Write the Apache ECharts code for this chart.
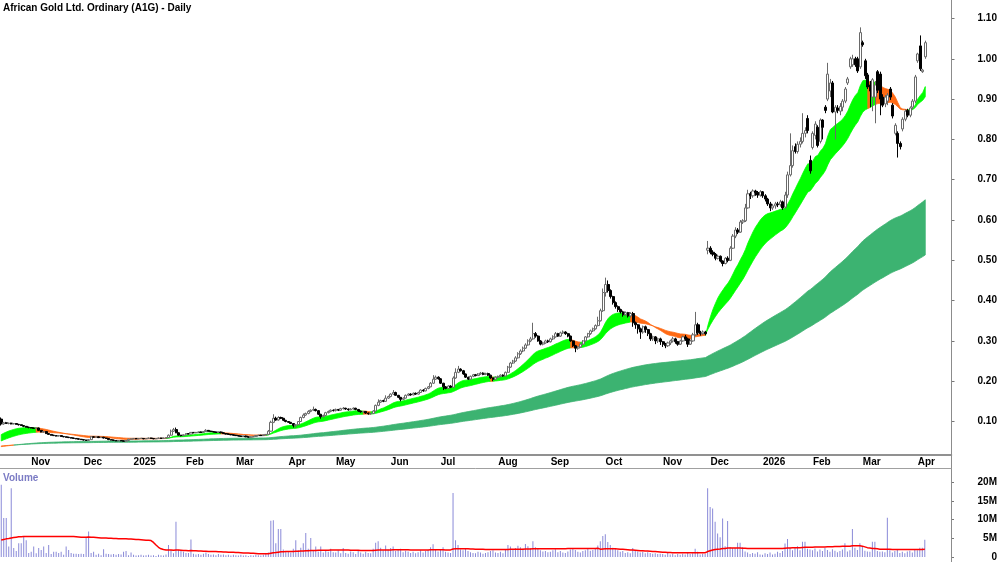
<!DOCTYPE html>
<html>
<head>
<meta charset="utf-8">
<script src="https://cdn.jsdelivr.net/npm/echarts@6/dist/echarts.min.js"></script>
<style>
  html, body { margin: 0; padding: 0; background: #fff; }
  #main { width: 1000px; height: 562px; }
</style>
</head>
<body>
<div id="main"></div>
<script>
// month labels on the date axis and trading days in each month
const monthLabels = ["Oct", "Nov", "Dec", "2025", "Feb", "Mar", "Apr", "May", "Jun", "Jul", "Aug", "Sep", "Oct", "Nov", "Dec", "2026", "Feb", "Mar", "Apr"];
const monthDays = [12, 21, 20, 21, 20, 21, 19, 22, 20, 23, 21, 22, 23, 19, 21, 20, 20, 22, 4];

// daily candles: [open, close, low, high]
const ohlc = [
  // Oct 2024
  [.106,.094,.090,.110],[.094,.097,.092,.099],[.097,.095,.094,.099],[.095,.096,.093,.097],[.096,.094,.093,.097],[.094,.095,.093,.096],
  [.095,.093,.092,.096],[.093,.092,.090,.094],[.092,.090,.089,.093],[.090,.088,.086,.091],[.088,.086,.085,.089],[.086,.085,.083,.087],
  // Nov 2024
  [.085,.084,.083,.086],[.084,.083,.082,.085],[.083,.084,.082,.085],[.084,.078,.077,.085],[.078,.074,.073,.079],[.074,.075,.072,.076],
  [.075,.070,.069,.076],[.070,.068,.067,.071],[.068,.066,.065,.069],[.066,.065,.064,.067],[.065,.064,.063,.066],[.064,.065,.063,.066],
  [.065,.063,.062,.066],[.063,.062,.061,.064],[.062,.061,.060,.063],[.061,.060,.059,.062],[.060,.059,.058,.061],[.059,.058,.057,.060],
  [.058,.057,.056,.059],[.057,.056,.055,.058],[.056,.055,.054,.057],
  // Dec 2024
  [.055,.054,.053,.056],[.054,.053,.052,.055],[.053,.055,.052,.056],[.055,.062,.054,.064],[.062,.061,.060,.063],[.061,.062,.060,.063],
  [.062,.060,.059,.063],[.060,.061,.059,.062],[.061,.059,.058,.062],[.059,.058,.057,.060],[.058,.055,.054,.059],[.055,.054,.053,.056],
  [.054,.053,.052,.055],[.053,.052,.051,.054],[.052,.053,.051,.054],[.053,.052,.051,.054],[.052,.051,.050,.053],[.051,.053,.050,.054],
  [.053,.056,.052,.057],[.056,.057,.055,.058],
  // Jan 2025
  [.057,.058,.056,.059],[.058,.057,.056,.059],[.057,.058,.056,.059],[.058,.0585,.057,.059],[.058,.057,.056,.059],[.057,.058,.056,.059],
  [.058,.059,.057,.060],[.059,.058,.057,.060],[.058,.057,.056,.059],[.057,.058,.056,.059],[.058,.059,.057,.060],[.059,.058,.057,.060],
  [.058,.059,.057,.060],[.059,.060,.058,.061],[.060,.066,.059,.068],[.066,.076,.065,.080],[.076,.080,.074,.084],[.080,.072,.071,.085],
  [.072,.066,.065,.073],[.066,.065,.063,.067],[.065,.067,.064,.068],
  // Feb 2025
  [.067,.070,.066,.071],[.070,.069,.068,.071],[.069,.073,.068,.074],[.073,.072,.071,.074],[.072,.073,.071,.074],[.073,.074,.072,.075],
  [.074,.073,.072,.075],[.073,.075,.072,.076],[.075,.078,.074,.081],[.078,.076,.075,.079],[.076,.075,.074,.077],[.075,.074,.073,.076],
  [.074,.073,.072,.075],[.073,.074,.072,.075],[.074,.072,.071,.075],[.072,.070,.069,.073],[.070,.069,.068,.071],[.069,.068,.067,.070],
  [.068,.067,.066,.069],[.067,.066,.065,.068],
  // Mar 2025
  [.066,.065,.064,.067],[.065,.064,.063,.066],[.064,.063,.062,.065],[.063,.064,.062,.065],[.064,.062,.061,.065],[.062,.061,.060,.063],
  [.061,.062,.060,.063],[.062,.063,.061,.064],[.063,.065,.062,.066],[.065,.066,.064,.067],[.066,.065,.064,.067],[.065,.067,.064,.068],
  [.067,.068,.066,.069],[.068,.076,.067,.079],[.076,.098,.075,.102],[.098,.108,.096,.118],[.108,.104,.102,.112],[.104,.110,.102,.113],
  [.110,.108,.106,.112],[.108,.103,.101,.109],[.103,.100,.098,.104],
  // Apr 2025
  [.100,.098,.097,.101],[.098,.095,.094,.099],[.095,.090,.085,.096],[.090,.092,.085,.093],[.092,.100,.091,.101],[.100,.110,.099,.112],
  [.110,.116,.108,.120],[.116,.120,.114,.122],[.120,.125,.118,.128],[.125,.128,.123,.130],[.128,.130,.126,.137],[.130,.127,.125,.132],
  [.127,.118,.116,.128],[.118,.112,.107,.119],[.112,.115,.110,.117],[.115,.122,.114,.124],[.122,.125,.120,.127],[.125,.128,.123,.130],
  [.128,.127,.125,.130],
  // May 2025
  [.127,.130,.125,.132],[.130,.128,.126,.131],[.128,.132,.127,.134],[.132,.133,.130,.136],[.133,.131,.129,.134],[.131,.129,.127,.132],
  [.129,.131,.128,.133],[.131,.133,.130,.135],[.133,.130,.128,.134],[.130,.126,.124,.131],[.126,.124,.122,.127],[.124,.125,.122,.126],
  [.125,.121,.119,.126],[.121,.119,.117,.122],[.119,.120,.117,.121],[.120,.126,.119,.128],[.126,.140,.125,.142],[.140,.148,.138,.155],
  [.148,.152,.146,.154],[.152,.150,.148,.154],[.150,.158,.149,.165],[.158,.162,.156,.164],
  // Jun 2025
  [.162,.168,.160,.170],[.168,.172,.166,.178],[.172,.165,.164,.174],[.165,.160,.158,.166],[.160,.155,.150,.161],[.155,.158,.153,.160],
  [.158,.165,.157,.167],[.165,.168,.163,.170],[.168,.166,.164,.170],[.166,.170,.165,.172],[.170,.168,.166,.172],[.168,.172,.167,.174],
  [.172,.178,.171,.180],[.178,.176,.174,.180],[.176,.182,.175,.184],[.182,.186,.180,.188],[.186,.195,.185,.198],[.195,.205,.193,.215],
  [.205,.210,.203,.214],[.210,.206,.204,.212],
  // Jul 2025
  [.206,.195,.193,.208],[.195,.186,.178,.196],[.186,.182,.180,.188],[.182,.188,.181,.190],[.188,.185,.183,.190],[.185,.208,.184,.212],
  [.208,.222,.206,.232],[.222,.230,.220,.238],[.230,.226,.224,.232],[.226,.218,.216,.228],[.218,.210,.208,.219],[.210,.205,.203,.211],
  [.205,.212,.204,.214],[.212,.216,.210,.218],[.216,.214,.212,.218],[.214,.218,.213,.220],[.218,.220,.216,.223],[.220,.217,.215,.222],
  [.217,.219,.215,.221],[.219,.215,.213,.221],[.215,.208,.206,.216],[.208,.205,.200,.209],[.205,.210,.204,.212],
  // Aug 2025
  [.210,.212,.208,.214],[.212,.215,.210,.217],[.215,.213,.211,.217],[.213,.222,.212,.224],[.222,.235,.221,.238],[.235,.245,.233,.248],
  [.245,.250,.243,.253],[.250,.258,.248,.262],[.258,.268,.256,.272],[.268,.275,.265,.279],[.275,.282,.272,.286],[.282,.290,.280,.294],
  [.290,.300,.288,.304],[.300,.305,.297,.310],[.305,.318,.303,.345],[.318,.312,.308,.322],[.312,.300,.298,.314],[.300,.292,.289,.302],
  [.292,.295,.289,.298],[.295,.300,.293,.303],[.300,.298,.295,.303],
  // Sep 2025
  [.298,.305,.296,.308],[.305,.310,.302,.314],[.310,.318,.308,.322],[.318,.312,.310,.320],[.312,.320,.310,.323],[.320,.322,.317,.326],
  [.322,.318,.315,.324],[.318,.312,.309,.320],[.312,.300,.298,.313],[.300,.288,.285,.301],[.288,.282,.272,.290],[.282,.285,.278,.287],
  [.285,.292,.283,.294],[.292,.300,.290,.302],[.300,.310,.298,.312],[.310,.318,.308,.320],[.318,.325,.315,.328],[.325,.330,.322,.333],
  [.330,.338,.328,.341],[.338,.350,.336,.360],[.350,.375,.348,.380],[.375,.420,.372,.430],
  // Oct 2025
  [.420,.440,.410,.457],[.440,.425,.420,.450],[.425,.410,.405,.428],[.410,.395,.390,.412],[.395,.385,.380,.398],[.385,.378,.372,.388],
  [.378,.372,.368,.380],[.372,.365,.360,.375],[.365,.370,.362,.373],[.370,.362,.358,.372],[.362,.368,.358,.371],[.368,.345,.335,.372],
  [.345,.340,.330,.348],[.340,.330,.318,.342],[.330,.322,.305,.333],[.322,.335,.318,.338],[.335,.328,.320,.338],[.328,.318,.312,.330],
  [.318,.305,.300,.320],[.305,.310,.300,.313],[.310,.300,.292,.312],[.300,.305,.295,.308],[.305,.298,.290,.308],
  // Nov 2025
  [.298,.292,.285,.300],[.292,.288,.282,.295],[.288,.295,.285,.298],[.295,.300,.290,.303],[.300,.305,.296,.310],[.305,.298,.293,.308],
  [.298,.292,.288,.300],[.292,.300,.290,.303],[.300,.310,.298,.313],[.310,.305,.300,.315],[.305,.292,.285,.308],[.292,.300,.290,.303],
  [.300,.315,.298,.320],[.315,.340,.312,.372],[.340,.320,.315,.345],[.320,.318,.313,.325],[.318,.322,.315,.326],[.322,.318,.314,.325],
  [.525,.530,.515,.548],
  // Dec 2025
  [.530,.520,.515,.535],[.520,.515,.510,.525],[.515,.505,.500,.518],[.505,.510,.502,.514],[.510,.498,.495,.512],[.498,.492,.485,.500],
  [.492,.505,.490,.508],[.505,.500,.495,.510],[.500,.530,.498,.535],[.530,.560,.528,.565],[.560,.575,.555,.582],[.575,.570,.565,.580],
  [.570,.595,.568,.600],[.595,.598,.590,.602],[.598,.630,.595,.640],[.630,.665,.628,.675],[.665,.660,.652,.670],[.660,.672,.655,.676],
  [.672,.668,.660,.675],[.668,.662,.655,.672],[.662,.670,.658,.674],
  // Jan 2026
  [.670,.660,.655,.672],[.660,.652,.646,.664],[.652,.640,.635,.655],[.640,.630,.622,.645],[.630,.635,.625,.640],[.635,.640,.628,.645],
  [.640,.638,.632,.645],[.638,.645,.633,.650],[.645,.630,.625,.648],[.632,.662,.628,.670],[.662,.712,.655,.720],[.712,.735,.708,.815],
  [.735,.772,.730,.785],[.782,.770,.765,.790],[.770,.788,.765,.795],[.788,.795,.780,.805],[.795,.815,.790,.865],[.815,.822,.805,.830],
  [.852,.822,.815,.860],[.748,.722,.715,.760],
  // Feb 2026
  [.780,.815,.775,.820],[.810,.838,.800,.845],[.830,.785,.780,.835],[.795,.848,.790,.852],[.848,.830,.800,.850],[.880,.872,.865,.885],
  [.900,.962,.895,.990],[.920,.940,.905,.950],[.940,.868,.865,.945],[.868,.880,.800,.885],[.878,.872,.865,.885],[.870,.882,.860,.890],
  [.880,.895,.870,.900],[.895,.925,.890,.930],[.940,.950,.935,.955],[.980,1.000,.975,1.005],[.985,1.000,.980,1.010],[1.000,.985,.980,1.005],
  [1.000,.970,.965,1.005],[.980,1.065,.975,1.078],
  // Mar 2026
  [1.040,1.035,1.030,1.045],[.995,.958,.950,1.000],[.960,.930,.925,.965],[.935,.920,.880,.945],[.905,.948,.870,.952],[.905,.935,.840,.945],
  [.968,.922,.915,.972],[.962,.900,.860,.968],[.905,.885,.880,.912],[.888,.905,.880,.910],[.895,.910,.885,.915],[.925,.905,.898,.930],
  [.885,.858,.852,.890],[.815,.835,.810,.840],[.815,.790,.755,.820],[.790,.782,.775,.795],[.826,.850,.820,.855],[.850,.870,.845,.875],
  [.872,.860,.855,.876],[.860,.878,.855,.882],[.880,.895,.875,.900],[.895,.955,.890,.960],
  // Apr 2026
  [.995,1.012,.990,1.015],[1.032,.975,.970,1.058],[.968,.972,.965,.975],[1.005,1.040,1.000,1.045]
];

// daily volume, millions
const volume = [
  19.3,10.4,10.4,2.8,18.4,2.4,1.6,3.7,3.7,5.4,4.5,1.1,
  1.4,2.8,1.0,2.4,1.9,2.8,1.1,3.2,0.8,1.4,1.4,1.1,1.4,0.6,2.8,1.9,1.1,0.9,0.9,0.8,0.9,
  0.8,5.1,6.8,1.1,1.4,0.6,0.9,0.5,2.1,0.9,0.8,0.7,0.8,0.6,0.8,0.7,1.4,1.6,0.5,1.2,
  0.6,0.4,0.5,0.6,0.4,0.5,0.6,0.4,0.5,0.3,0.6,0.5,0.4,0.7,3.2,1.9,1.0,9.4,1.9,1.9,1.4,
  1.1,1.1,4.7,0.9,0.7,0.8,0.6,0.9,1.2,0.8,0.6,0.7,0.5,0.8,0.6,0.7,0.5,0.6,0.4,0.6,
  0.5,0.4,0.6,0.4,0.5,0.3,0.5,0.4,0.6,0.5,0.4,0.6,0.8,1.2,9.7,9.8,3.7,7.5,7.5,2.0,1.5,
  1.6,1.2,2.2,4.5,1.8,2.5,3.7,6.4,2.2,5.1,1.6,2.8,1.5,2.8,1.2,1.9,1.4,2.2,1.3,
  1.2,1.8,1.0,2.4,1.1,0.9,1.5,1.3,0.8,1.6,1.2,0.9,1.4,1.1,1.0,2.2,3.8,4.2,2.5,1.8,3.1,2.0,
  2.4,2.8,1.6,1.9,2.2,1.3,1.7,1.5,1.1,1.4,1.0,1.3,1.8,1.2,1.6,1.9,2.6,3.4,2.1,1.5,
  2.0,2.6,1.4,1.2,1.1,17.1,4.5,3.2,2.0,1.8,2.2,1.6,1.3,1.1,1.0,1.4,1.2,0.9,1.1,1.3,1.6,1.8,1.2,
  1.1,1.4,1.0,2.0,3.2,2.8,2.1,2.4,3.0,2.6,2.2,3.5,2.9,2.4,4.2,2.6,2.2,1.8,1.5,1.6,1.3,
  1.4,1.8,2.1,1.3,1.6,1.2,1.1,1.5,2.0,2.4,1.9,1.4,1.2,1.6,1.8,2.2,1.7,1.9,2.3,3.1,4.2,5.6,
  6.1,4.0,3.2,2.5,2.2,1.8,1.4,1.6,1.1,1.3,1.0,2.4,1.8,1.5,1.2,1.4,1.0,1.3,1.1,0.9,1.0,0.8,0.9,
  0.8,0.6,1.1,0.7,0.9,0.5,0.8,0.6,0.9,0.7,1.2,0.8,1.0,2.2,1.4,0.7,0.9,0.8,18.4,
  13.4,13.0,9.4,6.3,5.3,10.3,2.9,9.6,2.7,2.4,2.4,3.8,3.8,2.6,1.5,1.2,0.8,1.1,0.9,1.3,0.7,
  0.6,1.0,0.8,1.2,0.7,0.9,1.4,1.1,1.6,3.6,4.8,2.5,1.8,2.5,2.9,1.8,4.1,4.1,2.2,2.0,
  1.8,2.3,1.5,2.0,1.6,2.4,1.9,1.4,2.1,1.7,1.3,1.6,2.0,3.7,1.5,1.8,7.5,2.5,1.9,3.7,
  2.9,1.7,1.5,1.4,4.1,4.1,1.6,1.4,1.5,1.3,10.5,1.8,1.2,1.6,1.9,1.1,1.4,1.0,1.5,1.7,1.2,2.0,
  1.8,2.5,2.5,4.6
];

// volume average line as drawn, millions
const volumeAvg = [
  4.55,4.7,4.85,4.95,5.1,5.2,5.3,5.4,5.43,5.45,5.45,5.45,
  5.45,5.45,5.45,5.45,5.45,5.45,5.45,5.45,5.45,5.45,5.45,5.45,5.45,5.45,5.45,5.45,5.45,5.45,5.4,5.35,5.3,
  5.3,5.3,5.35,5.3,5.25,5.2,5.15,5.1,5.1,5.05,5.0,5.0,4.95,4.95,4.9,4.9,4.85,4.85,4.8,4.8,
  4.75,4.7,4.65,4.6,4.55,4.5,4.45,4.4,3.9,3.2,2.6,2.2,2.0,1.9,1.85,1.85,1.8,1.9,1.85,1.8,1.75,
  1.75,1.7,1.75,1.7,1.65,1.6,1.6,1.55,1.55,1.5,1.5,1.45,1.45,1.4,1.4,1.35,1.35,1.3,1.3,1.25,
  1.2,1.2,1.15,1.1,1.1,1.05,1.0,1.0,0.95,0.9,0.9,0.85,0.85,0.85,1.0,1.15,1.2,1.3,1.4,1.4,1.45,
  1.45,1.45,1.5,1.55,1.55,1.6,1.6,1.7,1.7,1.75,1.75,1.75,1.8,1.8,1.8,1.8,1.8,1.85,1.85,
  1.85,1.85,1.85,1.85,1.85,1.85,1.8,1.8,1.8,1.8,1.75,1.75,1.75,1.75,1.75,1.75,1.8,1.85,1.85,1.85,1.9,1.9,
  1.9,1.95,1.95,1.95,1.95,1.95,1.95,1.95,1.9,1.9,1.9,1.9,1.9,1.9,1.9,1.9,1.95,1.95,1.95,1.95,
  1.95,1.95,1.9,1.9,1.9,2.15,2.2,2.2,2.2,2.2,2.2,2.2,2.15,2.15,2.1,2.1,2.05,2.05,2.0,2.0,2.0,2.0,2.0,
  2.0,2.0,2.0,2.0,2.0,2.05,2.05,2.05,2.1,2.1,2.1,2.15,2.15,2.15,2.2,2.2,2.2,2.2,2.2,2.2,2.2,
  2.2,2.2,2.2,2.2,2.2,2.2,2.2,2.25,2.25,2.25,2.25,2.25,2.25,2.25,2.25,2.25,2.25,2.25,2.3,2.35,2.1,2.15,
  2.2,2.2,2.2,2.2,2.2,2.15,2.1,2.05,2.0,1.95,1.9,1.85,1.8,1.75,1.7,1.65,1.6,1.6,1.55,1.5,1.45,1.4,1.35,
  1.3,1.25,1.2,1.2,1.15,1.15,1.15,1.15,1.15,1.15,1.15,1.15,1.15,1.15,1.15,1.15,1.15,1.15,1.45,
  1.65,1.85,2.0,2.1,2.15,2.3,2.3,2.4,2.4,2.4,2.4,2.4,2.4,2.35,2.35,2.3,2.3,2.3,2.3,2.3,2.3,
  2.3,2.3,2.3,2.3,2.3,2.3,2.3,2.3,2.3,2.35,2.4,2.4,2.45,2.45,2.5,2.5,2.55,2.6,2.6,2.6,
  2.6,2.65,2.65,2.7,2.7,2.7,2.75,2.75,2.75,2.8,2.8,2.8,2.85,2.9,2.9,2.9,3.0,3.0,3.0,3.0,
  2.9,2.7,2.5,2.4,2.3,2.25,2.2,2.1,2.05,2.05,2.05,2.05,2.0,2.0,2.0,2.0,2.0,2.0,2.0,2.0,2.0,2.0,
  2.0,2.0,2.0,2.05
];

// moving-average ribbons: periods and starting values read at the left edge
const shortPeriods = [16, 32];
const shortSeed = [0.064, 0.049];
const longPeriods = [150, 250];
const longSeed = [0.037, 0.039];

const priceTicks = [0.1, 0.2, 0.3, 0.4, 0.5, 0.6, 0.7, 0.8, 0.9, 1.0, 1.1];
const volumeTicks = [0, 5, 10, 15, 20];
const blankDays = 10;

// build categories
const cats = [];
monthDays.forEach((n, m) => {
  for (let d = 0; d < n; d++) cats.push(m + "|" + d);
});
for (let i = 0; i < blankDays; i++) cats.push("x|" + i);

function isMonthStart(v) {
  const p = String(v).split("|");
  return p[0] !== "x" && p[0] !== "0" && p[1] === "0";
}

function ema(values, period, seed) {
  const a = 2 / (period + 1);
  let e = seed;
  return values.map((v) => (e = e + a * (v - e)));
}

const closes = ohlc.map((r) => r[1]);
const sFast = ema(closes, shortPeriods[0], shortSeed[0]);
const sSlow = ema(closes, shortPeriods[1], shortSeed[1]);
const lFast = ema(closes, longPeriods[0], longSeed[0]);
const lSlow = ema(closes, longPeriods[1], longSeed[1]);

// ribbon: green while it rises with fast above slow, orange otherwise.
// consecutive days of one colour are drawn as one polygon
function ribbon(fast, slow, upColor, downColor) {
  const flag = [0];
  for (let i = 1; i < fast.length; i++) {
    const mid = (fast[i] + slow[i]) / 2;
    const prev = (fast[i - 1] + slow[i - 1]) / 2;
    flag.push(mid >= prev && fast[i] >= slow[i] ? 1 : 0);
  }
  const runs = [];
  let start = 1;
  for (let i = 2; i <= fast.length; i++) {
    if (i === fast.length || flag[i] !== flag[start]) {
      runs.push([start - 1, i - 1, flag[start], fast[start]]);
      start = i;
    }
  }
  return {
    type: "custom",
    data: runs,
    z: 2,
    silent: true,
    clip: true,
    encode: { x: [0, 1], y: 3 },
    renderItem: function (params, api) {
      const s = api.value(0), e = api.value(1);
      const top = [], bottom = [];
      for (let j = s; j <= e; j++) {
        top.push(api.coord([j, fast[j]]));
        bottom.unshift(api.coord([j, slow[j]]));
      }
      const color = api.value(2) ? upColor : downColor;
      return {
        type: "polygon",
        shape: { points: top.concat(bottom) },
        style: { fill: color, stroke: color, lineWidth: 0.8 },
      };
    },
  };
}

const font = "Liberation Sans, Arial, sans-serif";
const labelStyle = { color: "#000", fontSize: 10, fontWeight: "bold", fontFamily: font };

var myChart = echarts.init(document.getElementById("main"));
var option = {
  animation: false,
  backgroundColor: "#fff",
  title: {
    text: "African Gold Ltd. Ordinary (A1G) - Daily",
    left: 3,
    top: 3,
    padding: 0,
    textStyle: { color: "#000", fontSize: 10, fontWeight: "bold", fontFamily: font },
  },
  grid: [
    { left: 0, right: 48.5, top: 0, bottom: 107 },
    { left: 0, right: 48.5, top: 468, bottom: 5 },
  ],
  xAxis: [
    {
      type: "category",
      gridIndex: 0,
      data: cats,
      boundaryGap: true,
      axisLine: { lineStyle: { color: "#6e6e6e", width: 1.5 } },
      axisTick: { interval: (i, v) => isMonthStart(v), length: 4, lineStyle: { color: "#555" } },
      axisLabel: Object.assign({}, labelStyle, {
        interval: (i, v) => isMonthStart(v),
        formatter: (v) => monthLabels[+String(v).split("|")[0]],
        align: "left",
        margin: 2,
      }),
      splitLine: { show: false },
    },
    {
      type: "category",
      gridIndex: 1,
      data: cats,
      boundaryGap: true,
      axisLine: { show: false },
      axisTick: { show: false },
      axisLabel: { show: false },
    },
  ],
  yAxis: [
    {
      type: "value",
      gridIndex: 0,
      position: "right",
      min: 0.0169,
      max: 1.1459,
      axisLine: { show: false },
      axisTick: { show: true, customValues: priceTicks, length: 3, lineStyle: { color: "#777" } },
      axisLabel: Object.assign({}, labelStyle, {
        customValues: priceTicks,
        formatter: (v) => v.toFixed(2),
        margin: 26,
      }),
      splitLine: { show: false },
    },
    {
      type: "value",
      gridIndex: 1,
      position: "right",
      min: 0,
      max: 23.8,
      axisLine: { show: false },
      axisTick: { show: true, customValues: volumeTicks, length: 3, lineStyle: { color: "#777" } },
      axisLabel: Object.assign({}, labelStyle, {
        customValues: volumeTicks,
        formatter: (v) => (v === 0 ? "0" : v + "M"),
        align: "right",
        margin: 46,
      }),
      splitLine: { show: false },
    },
  ],
  graphic: [
    { type: "line", shape: { x1: 951.5, y1: 0, x2: 951.5, y2: 562 }, style: { stroke: "#8c8c8c", lineWidth: 1 }, z: 10 },
    { type: "line", shape: { x1: 0, y1: 468.5, x2: 951.5, y2: 468.5 }, style: { stroke: "#a0a0a0", lineWidth: 1 }, z: 10 },
    { type: "text", left: 3, top: 473, style: { text: "Volume", fill: "#7b7bc4", font: "bold 10px " + font }, z: 10 },
  ],
  series: [
    ribbon(lFast, lSlow, "#3cb371", "#ff6a14"),
    ribbon(sFast, sSlow, "#00ff00", "#ff6a14"),
    {
      type: "candlestick",
      data: ohlc,
      barWidth: 2.6,
      z: 5,
      itemStyle: {
        color: "#ffffff",
        color0: "#000000",
        borderColor: "#6a6a6a",
        borderColor0: "#000000",
        borderWidth: 1,
      },
    },
    {
      type: "bar",
      xAxisIndex: 1,
      yAxisIndex: 1,
      data: volume,
      barWidth: 1,
      itemStyle: { color: "#8a8ad8" },
      z: 2,
    },
    {
      type: "line",
      xAxisIndex: 1,
      yAxisIndex: 1,
      data: volumeAvg,
      symbol: "none",
      lineStyle: { color: "#ff0000", width: 1.5 },
      z: 3,
    },
  ],
};
myChart.setOption(option);
</script>
</body>
</html>
